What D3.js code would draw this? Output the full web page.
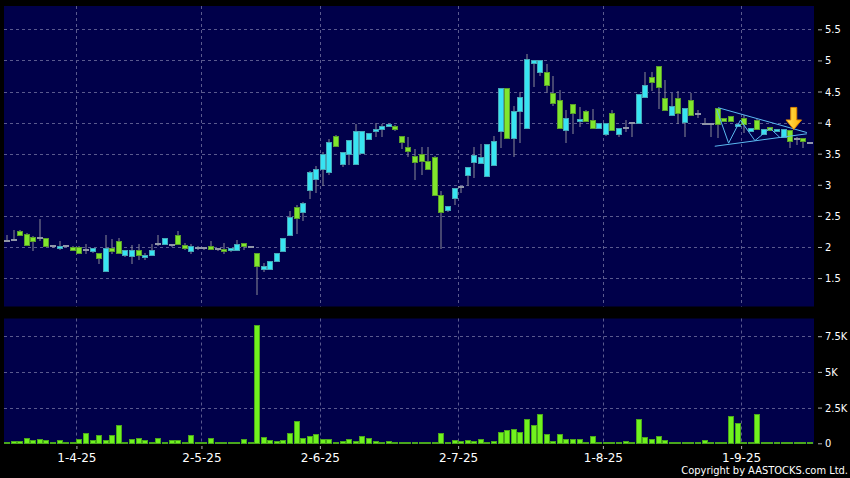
<!DOCTYPE html>
<html><head><meta charset="utf-8">
<script src="https://cdn.jsdelivr.net/npm/d3@7"></script>
<style>html,body{margin:0;padding:0;background:#000;} svg{display:block;}</style>
</head><body>
<svg id="c" width="850" height="478"></svg>
<script>
// ---- data ----
const open  = [2.10,2.12,2.26,2.21,2.16,2.14,2.14,2.01,1.98,2.02,2.00,2.00,1.95,1.93,1.90,1.61,1.98,2.09,1.87,1.85,
               1.95,1.84,1.87,2.04,2.05,2.03,2.20,2.03,1.93,1.98,1.98,2.02,1.96,1.97,1.95,1.95,2.06,2.00,1.90,1.65,
               1.65,1.78,1.93,2.20,2.65,2.57,2.91,3.09,3.26,3.20,3.79,3.34,3.50,3.33,3.51,3.73,3.86,3.90,3.95,3.95,
               3.79,3.60,3.47,3.50,3.39,3.44,2.84,2.59,2.79,2.96,3.16,3.36,3.35,3.14,3.32,3.87,4.56,3.76,4.19,3.92,
               4.96,4.81,4.81,4.48,4.37,3.88,4.30,4.03,4.19,4.04,3.91,3.82,4.15,3.81,3.92,3.99,3.99,4.41,4.73,4.91,
               4.39,4.12,4.40,4.01,4.37,4.14,3.97,3.97,4.23,4.08,4.10,3.94,4.08,3.87,4.04,3.82,3.93,3.86,3.77,3.88,
               3.74,3.76,3.68];
const high  = [2.20,2.27,2.28,2.22,2.17,2.45,2.15,2.02,2.09,2.03,2.01,2.01,2.04,1.98,1.91,2.20,2.13,2.14,1.95,2.03,
               2.05,1.90,2.04,2.20,2.14,2.05,2.26,2.07,2.05,2.01,1.99,2.10,1.97,2.06,1.99,2.12,2.06,2.00,1.90,1.75,
               1.77,1.90,2.14,2.58,2.67,2.72,3.22,3.30,3.52,3.74,3.80,3.52,3.72,3.98,3.86,3.83,3.99,3.97,4.00,3.96,
               3.79,3.77,3.58,3.60,3.60,3.46,2.90,2.66,2.95,2.98,3.29,3.60,3.65,3.66,3.78,4.56,4.56,4.26,4.50,5.10,
               5.00,5.00,4.95,4.75,4.52,4.20,4.30,4.25,4.20,4.22,3.99,4.00,4.20,3.92,4.04,3.99,4.46,4.81,4.81,4.91,
               4.69,4.47,4.51,4.23,4.47,4.20,4.07,3.97,4.24,4.08,4.10,3.97,4.13,3.91,4.06,3.89,3.93,3.90,3.89,3.88,
               3.77,3.76,3.68];
const low   = [2.09,2.11,2.19,2.03,1.95,2.11,2.01,2.00,1.97,2.01,1.95,1.91,1.90,1.92,1.75,1.61,1.91,1.90,1.86,1.74,
               1.80,1.80,1.87,2.03,2.05,2.02,2.05,1.96,1.90,1.96,1.97,1.97,1.95,1.91,1.94,1.95,1.97,2.00,1.24,1.62,
               1.65,1.78,1.93,2.20,2.23,2.43,2.78,2.89,2.99,3.18,3.62,3.31,3.34,3.33,3.51,3.73,3.78,3.78,3.94,3.88,
               3.59,3.46,3.10,3.18,3.26,2.84,1.98,2.58,2.69,2.88,2.99,3.12,3.35,3.14,3.32,3.60,3.76,3.46,3.69,3.92,
               4.59,4.76,4.50,4.28,3.92,3.69,3.83,3.95,4.02,3.92,3.91,3.80,3.88,3.79,3.87,3.79,3.99,4.41,4.53,4.23,
               4.20,4.12,4.00,3.78,4.13,4.09,3.97,3.78,3.77,4.02,4.03,3.94,3.85,3.87,3.89,3.82,3.88,3.86,3.77,3.61,
               3.66,3.60,3.68];
const close = [2.10,2.12,2.19,2.03,2.10,2.14,2.01,2.01,2.02,2.02,1.95,1.91,1.95,1.98,1.82,1.98,1.93,1.90,1.95,1.95,
               1.87,1.87,1.95,2.04,2.14,2.03,2.05,1.99,2.01,1.98,1.98,1.97,1.96,1.93,1.99,2.05,2.01,2.00,1.70,1.69,
               1.77,1.90,2.14,2.48,2.46,2.70,3.20,3.25,3.50,3.69,3.63,3.52,3.72,3.86,3.86,3.83,3.90,3.94,3.98,3.90,
               3.69,3.54,3.36,3.39,3.26,2.84,2.56,2.66,2.95,2.96,3.29,3.48,3.44,3.66,3.70,4.56,3.76,4.19,4.41,5.02,
               5.00,5.00,4.60,4.31,3.92,4.08,4.15,4.06,4.02,3.92,3.99,4.00,3.88,3.92,3.92,3.99,4.46,4.60,4.65,4.57,
               4.20,4.26,4.15,4.23,4.13,4.14,3.97,3.97,3.97,4.02,4.03,3.97,3.98,3.91,3.89,3.89,3.88,3.90,3.89,3.70,
               3.74,3.70,3.68];
const volumeK = [0.12,0.16,0.16,0.37,0.23,0.28,0.23,0.02,0.23,0.05,0.09,0.30,0.70,0.23,0.58,0.23,0.61,1.28,0.09,0.28,
               0.35,0.23,0.05,0.35,0.01,0.21,0.23,0.09,0.58,0.05,0.05,0.35,0.02,0.12,0.07,0.07,0.30,0.02,8.27,0.47,
               0.21,0.16,0.23,0.72,1.57,0.35,0.51,0.65,0.30,0.28,0.12,0.16,0.30,0.19,0.49,0.35,0.19,0.02,0.14,0.02,
               0.09,0.09,0.07,0.02,0.02,0.09,0.72,0.09,0.25,0.19,0.21,0.14,0.28,0.05,0.16,0.76,0.93,1.00,0.76,1.67,
               1.27,2.04,0.65,0.14,0.63,0.30,0.30,0.30,0.05,0.50,0.10,0.05,0.12,0.05,0.15,0.05,1.70,0.45,0.30,0.50,
               0.20,0.05,0.10,0.12,0.05,0.02,0.21,0.07,0.02,0.02,1.92,1.45,0.02,0.02,2.08,0.02,0.02,0.05,0.02,0.05,
               0.02,0.02,0.02];

const priceTicks = [1.5,2,2.5,3,3.5,4,4.5,5,5.5];
const priceTickLabels = ["1.5","2","2.5","3","3.5","4","4.5","5","5.5"];
const volTicks = [0,2.5,5,7.5];
const volTickLabels = ["0","2.5K","5K","7.5K"];
const dateTickIdx = [11,30,48,69,91,112];
const dateTickLabels = ["1-4-25","2-5-25","2-6-25","2-7-25","1-8-25","1-9-25"];
// pattern annotation (candle index, price)
const trendUpper = [[108,4.24],[121.5,3.84]];
const trendLower = [[107.5,3.62],[121.5,3.82]];
const zigzag = [[107.8,4.21],[109.6,3.67],[111.4,4.04],[113.6,3.71],[115.9,3.91],[117.4,3.76]];
const arrowAt = [119.5,3.89];
const copyright = "Copyright by AASTOCKS.com Ltd.";

// ---- layout ----
const W = 850, H = 478;
const L = 4, R = 813.5;
const pTop = 6, pBot = 306.5, vTop = 318.5, vBot = 444;
const navy = "#00004a", gridCol = "#5a5a8e";
const n = open.length;

const svg = d3.select("#c");
svg.append("rect").attr("width",W).attr("height",H).attr("fill","#000");
svg.append("rect").attr("x",L).attr("y",pTop).attr("width",R-L+0.5).attr("height",pBot-pTop).attr("fill",navy);
svg.append("rect").attr("x",L).attr("y",vTop).attr("width",R-L+0.5).attr("height",vBot-vTop).attr("fill",navy);

const x = d3.scaleBand().domain(d3.range(n)).range([L,R]).paddingInner(0).paddingOuter(0);
const xi = d3.scaleLinear().domain([0,n]).range([L,R]);   // continuous index scale
const yP = d3.scaleLinear().domain([1.043,5.875]).range([pBot,pTop]);
const yV = d3.scaleLinear().domain([0,8.74]).range([443.3,vTop]);
const bw = x.bandwidth();

// grid
const g = svg.append("g").attr("stroke",gridCol).attr("stroke-dasharray","3,3").attr("stroke-width",1);
priceTicks.forEach(t=>{ const y=Math.round(yP(t))+0.5;
  g.append("line").attr("x1",L).attr("x2",R).attr("y1",y).attr("y2",y); });
volTicks.filter(t=>t>0).forEach(t=>{ const y=Math.round(yV(t))+0.5;
  g.append("line").attr("x1",L).attr("x2",R).attr("y1",y).attr("y2",y); });
dateTickIdx.forEach(i=>{ const xx=Math.round(xi(i))+0.5;
  g.append("line").attr("x1",xx).attr("x2",xx).attr("y1",pTop).attr("y2",pBot);
  g.append("line").attr("x1",xx).attr("x2",xx).attr("y1",vTop).attr("y2",vBot); });

// candles
const cg = svg.append("g");
d3.range(n).forEach(i=>{
  const x0 = Math.round(x(i));
  const cx = x0 + 3;
  cg.append("line").attr("x1",cx).attr("x2",cx)
    .attr("y1",Math.round(yP(high[i]))).attr("y2",Math.round(yP(low[i]))+1)
    .attr("stroke","#8a8a96").attr("stroke-width",1);
  const o=open[i], c=close[i];
  if (o===c) {
    const y=Math.round(yP(o));
    cg.append("rect").attr("x",x0).attr("y",y-1).attr("width",6).attr("height",2).attr("fill","#9096a8");
  } else {
    const up = c>o;
    const yt = Math.round(yP(Math.max(o,c))), yb = Math.round(yP(Math.min(o,c)));
    cg.append("rect").attr("x",x0+0.5).attr("y",yt+0.5).attr("width",5).attr("height",Math.max(1,yb-yt))
      .attr("fill", up ? "#38e4f2" : "#80e62c")
      .attr("stroke", up ? "#46a6b6" : "#5a9e2c").attr("stroke-width",1);
  }
});

// volume
const vg = svg.append("g");
d3.range(n).forEach(i=>{
  const x0 = Math.round(x(i));
  const yt = Math.round(yV(volumeK[i])), y0 = Math.round(yV(0));
  vg.append("rect").attr("x",x0+0.5).attr("y",Math.min(yt,y0-1)+0.5).attr("width",5).attr("height",Math.max(1,y0-yt))
    .attr("fill","#70f21e").attr("stroke","#4aa61c").attr("stroke-width",1);
});

// pattern annotation
const lineGen = d3.line().x(d=>xi(d[0]+0.5)).y(d=>yP(d[1]));
const ag = svg.append("g").attr("fill","none").attr("stroke","#5ab8f0").attr("stroke-width",1);
ag.append("path").attr("d",lineGen(trendUpper));
ag.append("path").attr("d",lineGen(trendLower));
ag.append("path").attr("d",lineGen(zigzag));

// arrow
const defs = svg.append("defs");
const grad = defs.append("linearGradient").attr("id","ag").attr("x1",0).attr("x2",1).attr("y1",0).attr("y2",0);
grad.append("stop").attr("offset","0%").attr("stop-color","#ffe45a");
grad.append("stop").attr("offset","100%").attr("stop-color","#ffb000");
const tx = xi(arrowAt[0]+0.5), ty = yP(arrowAt[1]);
svg.append("path")
  .attr("d",`M${tx-3},${ty-22}L${tx+3},${ty-22}L${tx+3},${ty-9.5}L${tx+7.8},${ty-9.5}L${tx},${ty}L${tx-7.8},${ty-9.5}L${tx-3},${ty-9.5}Z`)
  .attr("fill","url(#ag)").attr("stroke","#e08600").attr("stroke-width",1);

// right axes
const font = "'DejaVu Sans', sans-serif";
const axP = svg.append("g").attr("transform","translate(818,0)")
  .call(d3.axisRight(yP).tickValues(priceTicks).tickFormat((d,i)=>priceTickLabels[i]).tickSize(4).tickPadding(3));
const axV = svg.append("g").attr("transform","translate(818,0)")
  .call(d3.axisRight(yV).tickValues(volTicks).tickFormat((d,i)=>volTickLabels[i]).tickSize(4).tickPadding(3));
[axP,axV].forEach(a=>{
  a.select(".domain").remove();
  a.selectAll("line").attr("stroke","#b0b0b0");
  a.selectAll("text").attr("fill","#fff").attr("font-family",font).attr("font-size",11)
    .attr("font-stretch","condensed");
});

// bottom axis
const axX = svg.append("g").attr("transform","translate(0,446)")
  .call(d3.axisBottom(xi).tickValues(dateTickIdx).tickFormat((d,i)=>dateTickLabels[i]).tickSize(3).tickPadding(4.5));
axX.select(".domain").remove();
axX.selectAll("line").attr("stroke","#b0b0b0");
axX.selectAll("text").attr("fill","#fff").attr("font-family",font).attr("font-size",12);

svg.append("text").attr("x",848).attr("y",474).attr("text-anchor","end")
  .attr("fill","#fff").attr("font-family",font).attr("font-size",11).attr("font-stretch","condensed")
  .text(copyright);
</script>
</body></html>
